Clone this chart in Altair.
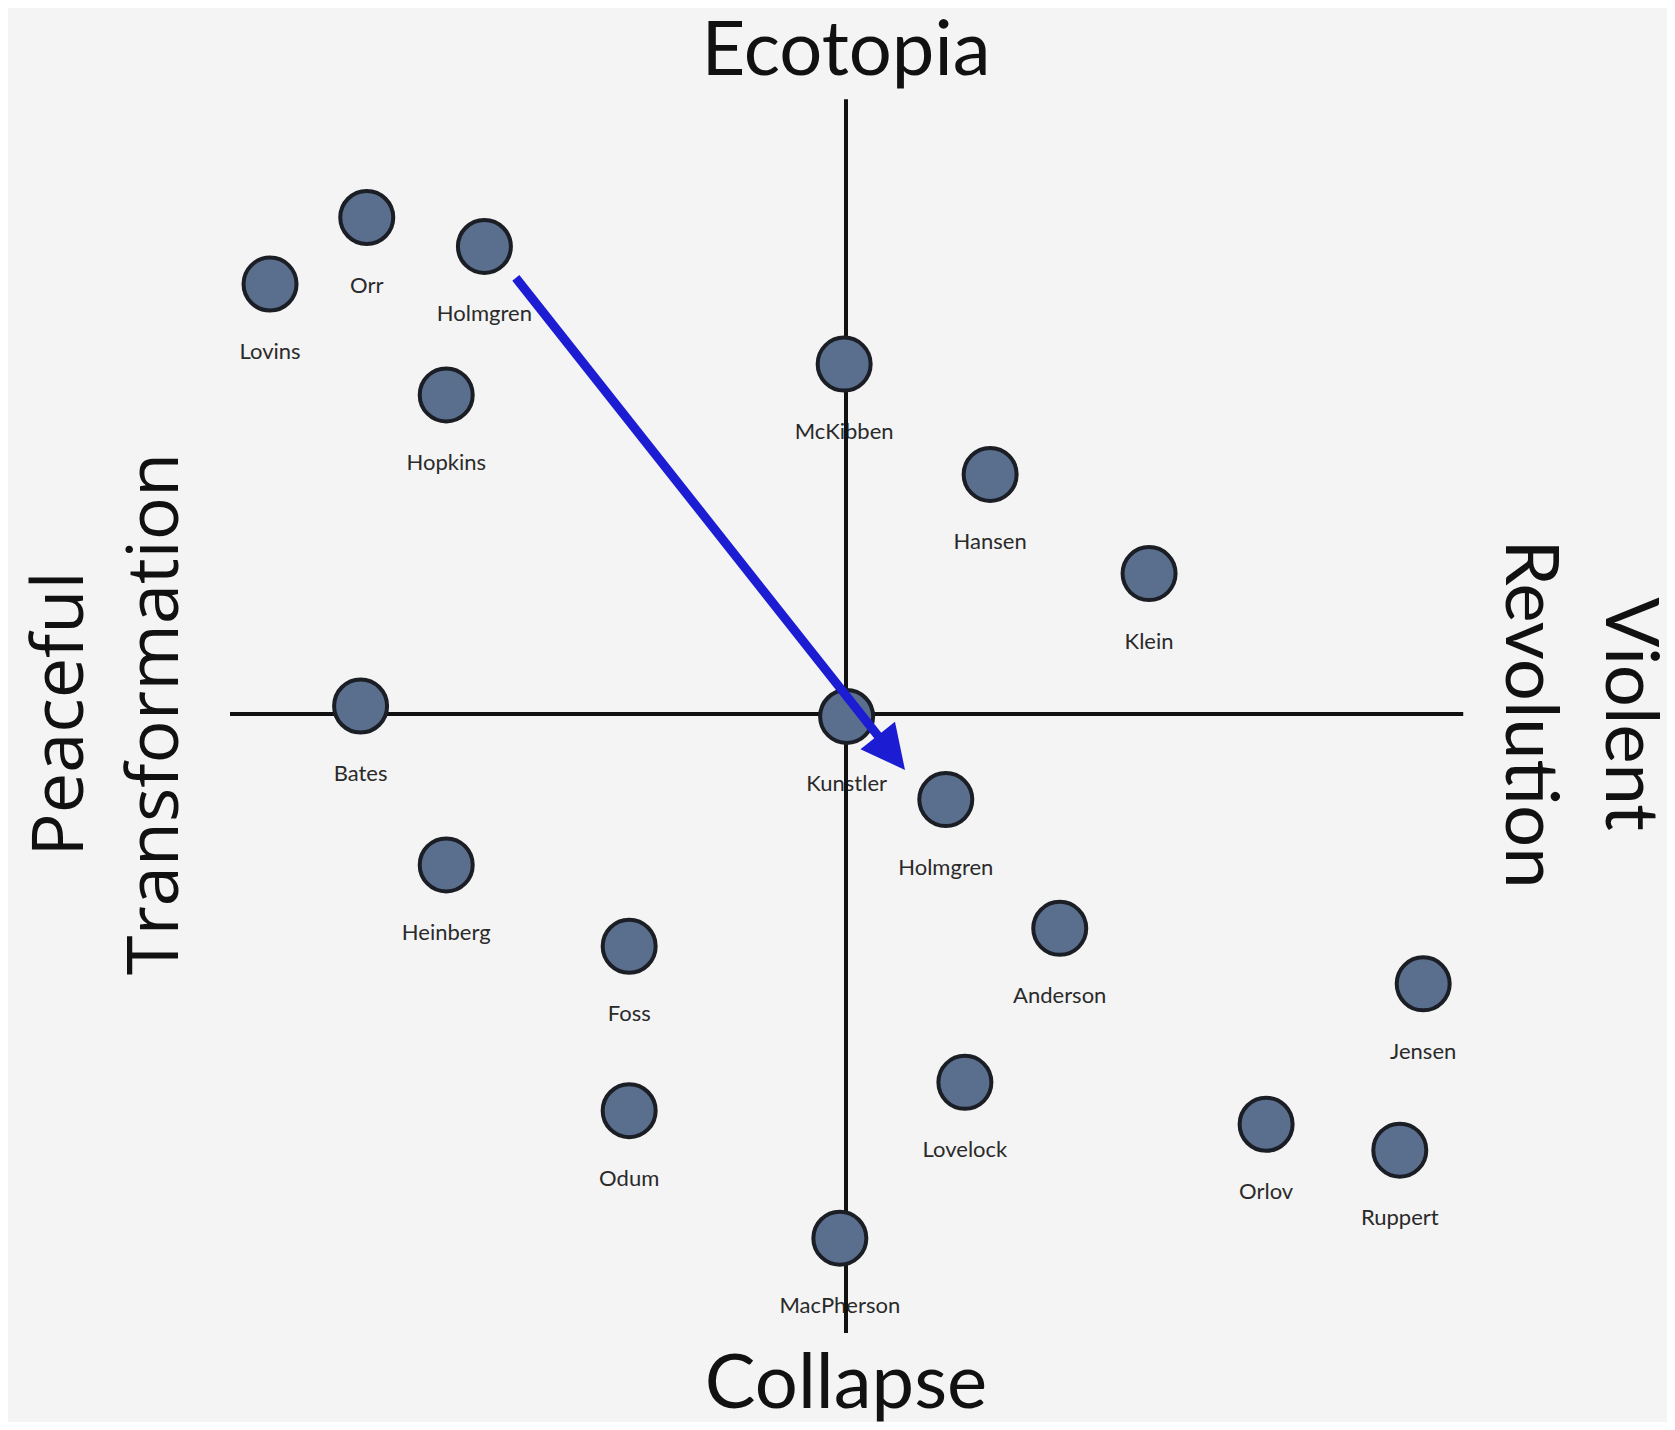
import math
import altair as alt
import pandas as pd

# ---- data (axes run from -10 to 10 in both directions) ----
names = ["Lovins", "Orr", "Holmgren", "Hopkins", "McKibben", "Hansen", "Klein",
         "Bates", "Kunstler", "Holmgren", "Heinberg", "Foss", "Anderson", "Jensen",
         "Lovelock", "Odum", "Orlov", "Ruppert", "MacPherson"]
xs = [-9.35, -7.78, -5.87, -6.49, -0.03, 2.34, 4.92,
      -7.88, 0.01, 1.62, -6.49, -3.52, 3.47, 9.37,
      1.93, -3.52, 6.82, 8.99, -0.10]
ys = [6.98, 8.06, 7.59, 5.18, 5.68, 3.89, 2.28,
      0.13, -0.04, -1.39, -2.45, -3.77, -3.48, -4.38,
      -5.98, -6.44, -6.66, -7.08, -8.51]

# axis lines
axis_x1 = [-10.0, 0.0]
axis_x2 = [10.02, 0.0]
axis_y1 = [0.0, 9.98]
axis_y2 = [0.0, -10.05]

# arrow (start, tip)
arrow_start = (-5.36, 7.08)
arrow_tip = (0.958, -0.909)

# pole titles
top_titles = ["Ecotopia", "Collapse"]
top_x = [0.0, 0.0]
top_y = [10.37, -11.27]
right_titles = ["Violent", "Revolution"]
right_x = [12.33, 10.71]
right_y = [0.0, 0.0]
left_titles = ["Peaceful", "Transformation"]
left_x = [-12.39, -10.85]
left_y = [0.0, 0.0]

# ---- layout ----
W, H = 1659, 1414
PX_PER_UNIT = 61.6
ORIGIN_X, ORIGIN_Y = 846 - 8, 714 - 8
x_dom = [-ORIGIN_X / PX_PER_UNIT, (W - ORIGIN_X) / PX_PER_UNIT]
y_dom = [-(H - ORIGIN_Y) / PX_PER_UNIT, ORIGIN_Y / PX_PER_UNIT]
xs_scale = alt.Scale(domain=x_dom, nice=False, zero=False)
ys_scale = alt.Scale(domain=y_dom, nice=False, zero=False)


def X(f):
    return alt.X(f, type="quantitative", scale=xs_scale, axis=None)


def Y(f):
    return alt.Y(f, type="quantitative", scale=ys_scale, axis=None)


people = pd.DataFrame({"name": names, "x": xs, "y": ys})
axes_df = pd.DataFrame({"x": axis_x1, "x2": axis_x2, "y": axis_y1, "y2": axis_y2})

# arrow geometry derived from start/tip
head_len = 43 / PX_PER_UNIT
dx = arrow_tip[0] - arrow_start[0]
dy = arrow_tip[1] - arrow_start[1]
L = math.hypot(dx, dy)
shaft_end = (arrow_tip[0] - dx / L * head_len, arrow_tip[1] - dy / L * head_len)
shaft_df = pd.DataFrame({"x": [arrow_start[0]], "y": [arrow_start[1]],
                         "x2": [shaft_end[0]], "y2": [shaft_end[1]]})
head_angle = math.degrees(math.atan2(dx, dy))  # screen-clockwise from up
head_df = pd.DataFrame({"x": [arrow_tip[0]], "y": [arrow_tip[1]]})

labels = alt.Chart(people).mark_text(
    font="Lato", fontSize=22, color="#2a2a2a", baseline="alphabetic",
    align="center", dy=75
).encode(x=X("x"), y=Y("y"), text="name:N")

axes = alt.Chart(axes_df).mark_rule(color="#111111", strokeWidth=4).encode(
    x=X("x"), x2="x2", y=Y("y"), y2="y2")

dots = alt.Chart(people).mark_point(
    shape="circle", filled=True, size=2809, fill="#5a6e8e", fillOpacity=1,
    stroke="#1b1e25", strokeWidth=4, opacity=1
).encode(x=X("x"), y=Y("y"))

shaft = alt.Chart(shaft_df).mark_rule(color="#1c1cd2", strokeWidth=9, strokeCap="butt").encode(
    x=X("x"), x2="x2", y=Y("y"), y2="y2")

head = alt.Chart(head_df).mark_point(
    shape="M0,0 L-1,2 L1,2 Z", filled=True, size=44 * 44, color="#1c1cd2",
    opacity=1, angle=head_angle
).encode(x=X("x"), y=Y("y"))

t_top = alt.Chart(pd.DataFrame({"t": top_titles, "x": top_x, "y": top_y})).mark_text(
    font="Lato", fontSize=76, color="#111111", baseline="alphabetic", align="center"
).encode(x=X("x"), y=Y("y"), text="t:N")

t_right = alt.Chart(pd.DataFrame({"t": right_titles, "x": right_x, "y": right_y})).mark_text(
    font="Lato", fontSize=74, color="#111111", baseline="alphabetic", align="center", angle=90
).encode(x=X("x"), y=Y("y"), text="t:N")

t_left = alt.Chart(pd.DataFrame({"t": left_titles, "x": left_x, "y": left_y})).mark_text(
    font="Open Sans", fontSize=72, color="#111111", baseline="alphabetic", align="center", angle=270
).encode(x=X("x"), y=Y("y"), text="t:N")

chart = alt.layer(labels, axes, dots, shaft, head, t_top, t_right, t_left).properties(
    width=W, height=H, padding=0, autosize=alt.AutoSizeParams(type="none"),
    background="#f4f4f4"
).configure_view(stroke=None)

chart.save("out.html", embed_options={"renderer": "svg", "actions": False})
